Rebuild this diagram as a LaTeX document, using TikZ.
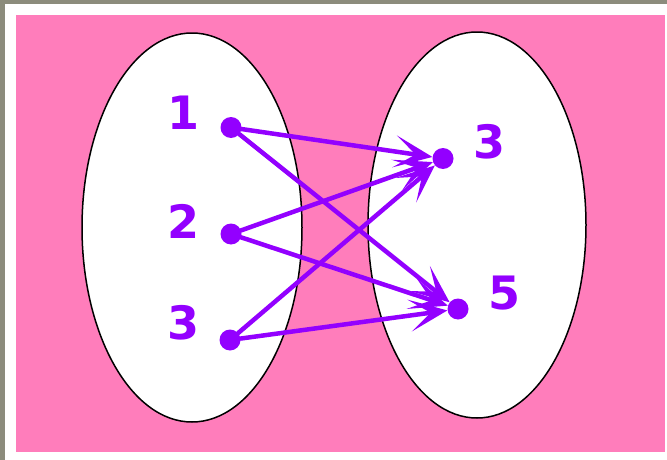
\documentclass[tikz,border=0pt]{standalone}
\usepackage{fontspec}
\setmainfont{DejaVu Sans}
\usetikzlibrary{arrows.meta}
\definecolor{fon}{HTML}{FF7DBB}
\definecolor{lil}{HTML}{9300FF}
\definecolor{ramka}{HTML}{8C8C7C}

\begin{document}
\begin{tikzpicture}[x=1pt, y=-1pt, line cap=round, line join=round,
	tochka/.style={circle, fill=lil, inner sep=0pt, minimum size=21pt},
	metka/.style={text=lil, font=\fontsize{46}{50}\selectfont\bfseries, inner sep=0pt},
	strelka/.style={-{Stealth[length=38pt, width=32pt, inset=21pt]}, lil, line width=4.5pt}]
	\useasboundingbox (0,0) rectangle (667,460);

	% Рамка и фон
	\fill[ramka] (0,0) rectangle (667,460);
	\fill[white] (5,4) rectangle (667,460);
	\fill[fon] (16,15) rectangle (665,452);

	% Множества
	\draw[fill=white, line width=1.5pt] (192,227.5) ellipse [x radius=110, y radius=194.5];
	\draw[fill=white, line width=1.5pt] (477,225) ellipse [x radius=109, y radius=193];

	% Элементы
	\node[tochka] (l1) at (231,127.5) {};
	\node[tochka] (l2) at (231,234) {};
	\node[tochka] (l3) at (230,340) {};
	\node[tochka] (r3) at (443,158.5) {};
	\node[tochka] (r5) at (458,309) {};

	\node[metka] (n1) at (184,113) {1};
	\node[metka] (n2) at (184,221) {2};
	\node[metka] (n3) at (184,323) {3};
	\node[metka] (m3) at (489,142) {3};
	\node[metka] (m5) at (504,293) {5};

	% Соответствие
	\foreach \a/\b in {l1/r3, l1/r5, l2/r3, l2/r5, l3/r3, l3/r5}
		\draw[strelka] (\a) -- (\b);
\end{tikzpicture}
\end{document}
